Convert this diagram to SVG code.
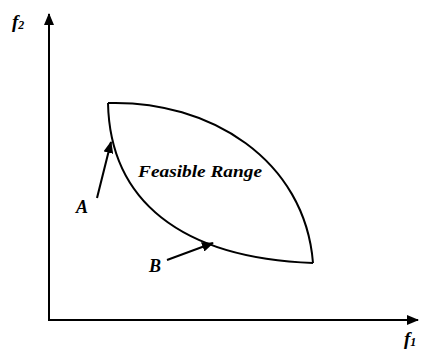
<svg xmlns="http://www.w3.org/2000/svg" width="425" height="349" viewBox="0 0 425 349">
<style>
.ln{fill:none;stroke:#000;stroke-width:2}
.lb{font-family:"Liberation Serif","DejaVu Serif","Times New Roman",serif;font-weight:bold;font-style:italic;fill:#000}
</style>
<defs>
<marker id="ah" markerWidth="12" markerHeight="10" refX="11" refY="5" orient="auto" markerUnits="userSpaceOnUse">
<path d="M0,0 L12,5 L0,10 Z" fill="#000"/>
</marker>
</defs>
<rect width="425" height="349" fill="#fff"/>
<g id="axes">
<line class="ln" x1="49" y1="321" x2="49" y2="14" marker-end="url(#ah)"/>
<line class="ln" x1="48" y1="320" x2="418" y2="320" marker-end="url(#ah)"/>
</g>
<g id="region">
<path class="ln" d="M108,103 C210,100 305,160 313,263"/>
<path class="ln" d="M108,103 C110,200 180,258 313,263"/>
<text class="lb" x="138" y="177" font-size="17" textLength="124" lengthAdjust="spacingAndGlyphs">Feasible Range</text>
</g>
<g id="connectors">
<line class="ln" x1="97" y1="198" x2="111" y2="142" marker-end="url(#ah)" stroke-width="1.8"/>
<line class="ln" x1="167" y1="260" x2="213" y2="243" marker-end="url(#ah)" stroke-width="1.8"/>
</g>
<g id="labels">
<text class="lb" x="76" y="213" font-size="18">A</text>
<text class="lb" x="149" y="272" font-size="18">B</text>
<text class="lb" x="12" y="28" font-size="19">f<tspan font-size="12" dy="1">2</tspan></text>
<text class="lb" x="404" y="345" font-size="19">f<tspan font-size="12" dy="1">1</tspan></text>
</g>
</svg>
